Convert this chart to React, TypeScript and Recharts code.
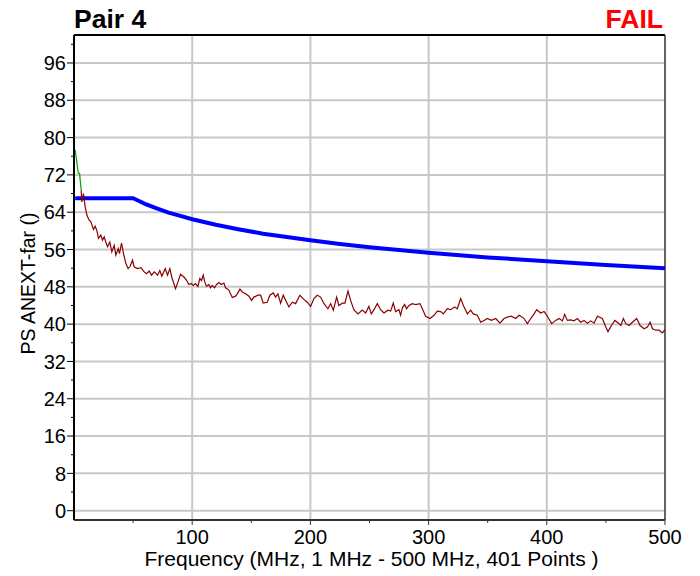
import { LineChart, Line, XAxis, YAxis, CartesianGrid, ReferenceLine } from 'recharts';

// limit line (blue)
const limitFreq = [1, 10, 20, 30, 40, 50, 55, 60, 70, 80, 90, 100, 120, 140, 160, 180, 200, 225, 250, 275, 300, 350, 400, 450, 500];
const limitVal = [67, 67, 67, 67, 67, 67, 66.4, 65.8, 64.8, 63.9, 63.2, 62.5, 61.3, 60.3, 59.4, 58.7, 58.0, 57.2, 56.5, 55.9, 55.3, 54.3, 53.5, 52.7, 52.0];

// first few points of the measurement (green)
const greenFreq = [1, 3.6, 4.7, 6.1];
const greenVal = [77.4, 72.4, 72.3, 68.7];

// measured PS ANEXT (dark red)
const measFreq = [
    6.1, 6.6, 8.0, 9.5, 10.9, 12.8, 14.2, 16.5, 17.9, 19.3, 20.7, 22.7, 24.1, 25.5, 26.9, 28.4, 30.3, 32.0, 34.0, 35.4,
    37.4, 38.5, 40.2, 41.9, 43.9, 45.8, 47.5, 49.5, 50.9, 53.7, 56.6, 59.4, 61.4, 63.6, 65.6, 67.9, 70.7, 72.6, 74.3, 77.2,
    79.1, 81.1, 82.8, 85.9, 87.9, 90.1, 93.0, 95.2, 97.2, 99.2, 100.9, 102.8, 104.8, 106.5, 107.9, 109.3, 110.7, 112.1, 114.1, 115.5,
    116.9, 118.9, 120.6, 122.6, 124.6, 126.8, 128.2, 131.0, 133.9, 136.7, 138.1, 140.4, 142.3, 145.2, 148.0, 150.2, 152.2, 155.6, 157.9, 160.1,
    163.5, 165.7, 168.6, 170.5, 172.5, 174.8, 177.0, 179.0, 181.8, 184.7, 187.5, 191.1, 194.5, 197.3, 200.2, 203.0, 205.8, 208.6, 211.5, 214.8,
    217.1, 219.4, 222.2, 224.1, 227.0, 229.2, 231.8, 234.0, 236.8, 240.2, 243.9, 246.7, 249.5, 251.5, 253.8, 256.6, 259.4, 262.2, 265.6, 267.9,
    270.1, 272.1, 274.9, 276.3, 277.8, 279.7, 281.4, 283.4, 286.2, 289.0, 292.7, 294.7, 297.5, 301.2, 304.6, 307.4, 310.2, 312.5, 315.8, 318.7,
    322.0, 324.3, 327.1, 329.9, 332.8, 335.6, 337.8, 341.2, 344.1, 346.9, 349.7, 353.1, 356.8, 360.4, 363.8, 366.6, 370.0, 373.7, 376.5, 379.3,
    380.7, 383.6, 386.4, 389.2, 391.5, 394.8, 397.7, 400.5, 404.1, 407.5, 410.4, 413.2, 415.1, 417.4, 420.2, 423.0, 425.9, 428.7, 431.5, 434.3,
    437.2, 440.0, 442.8, 447.0, 449.9, 451.8, 454.7, 457.5, 459.7, 462.6, 464.8, 466.8, 469.6, 472.4, 476.1, 478.9, 482.3, 485.1, 487.4, 489.4,
    492.2, 495.0, 497.8, 500.0,
];
const measVal = [
    68.7, 66.2, 68.0, 65.1, 63.4, 62.3, 62.0, 60.3, 61.0, 60.1, 58.4, 59.1, 58.0, 58.7, 57.6, 56.6, 57.6, 55.5, 56.9, 54.8,
    56.2, 55.1, 57.4, 55.1, 53.0, 51.9, 52.4, 53.7, 52.3, 51.9, 52.1, 51.2, 50.8, 51.4, 50.5, 51.2, 50.5, 51.5, 50.3, 51.9,
    50.5, 51.9, 50.0, 47.6, 49.0, 50.7, 50.1, 49.4, 48.5, 48.7, 48.3, 48.7, 48.1, 49.8, 49.3, 50.5, 49.0, 48.1, 48.5, 47.8,
    48.3, 47.8, 48.5, 48.9, 48.5, 48.8, 47.8, 47.3, 45.7, 46.0, 46.5, 47.5, 46.9, 46.5, 46.0, 45.1, 45.8, 46.2, 46.2, 44.5,
    44.7, 46.2, 46.7, 45.8, 46.5, 44.5, 46.2, 45.1, 43.7, 44.7, 44.4, 46.2, 45.3, 44.7, 43.8, 45.5, 46.2, 45.8, 44.4, 43.3,
    44.4, 43.0, 45.8, 44.0, 44.5, 44.5, 47.1, 45.1, 43.1, 42.2, 43.0, 42.4, 43.8, 42.2, 43.1, 44.4, 43.1, 42.4, 43.0, 42.8,
    44.5, 42.7, 43.1, 41.9, 43.5, 44.2, 43.3, 44.0, 44.4, 44.2, 44.4, 43.3, 41.7, 41.2, 41.9, 42.8, 42.7, 42.2, 43.3, 43.1,
    43.7, 43.3, 45.5, 43.7, 42.2, 43.0, 42.2, 41.9, 40.4, 40.8, 41.2, 40.8, 41.2, 40.2, 41.2, 41.5, 41.7, 41.2, 41.9, 41.5,
    41.2, 40.1, 41.2, 42.2, 43.1, 42.4, 42.7, 41.7, 40.1, 40.8, 41.2, 40.7, 42.1, 40.8, 40.9, 40.7, 41.2, 40.4, 40.8, 40.2,
    40.7, 40.2, 41.7, 41.2, 39.4, 38.4, 39.7, 40.8, 40.4, 39.7, 41.2, 40.1, 39.7, 40.4, 41.2, 39.7, 39.0, 39.4, 40.4, 39.0,
    38.7, 38.7, 38.1, 38.8,
];

const xTicks = [50, 100, 150, 200, 250, 300, 350, 400, 450, 500];
const xGrid = [100, 200, 300, 400, 500];
const yTicks = [0, 4, 8, 12, 16, 20, 24, 28, 32, 36, 40, 44, 48, 52, 56, 60, 64, 68, 72, 76, 80, 84, 88, 92, 96, 100];
const yGrid = [0, 8, 16, 24, 32, 40, 48, 56, 64, 72, 80, 88, 96];

const toPoints = (fs: number[], vs: number[]) => fs.map((f, i) => ({ f, v: vs[i] }));
const limitData = toPoints(limitFreq, limitVal);
const greenData = toPoints(greenFreq, greenVal);
const measData = toPoints(measFreq, measVal);

const FONT = '"Liberation Sans", Arial, sans-serif';

const XTick = ({ x, y, payload }: any) => {
    const major = payload.value % 100 === 0;
    return (
        <g>
            <line x1={x} x2={x} y1={y} y2={y + (major ? 5 : 3)} stroke="#333" strokeWidth={1} />
            {major && (
                <text x={x} y={y + 24} textAnchor="middle" fontSize={20} fontFamily={FONT} fill="#000">
                    {payload.value}
                </text>
            )}
        </g>
    );
};

const YTick = ({ x, y, payload }: any) => {
    const major = payload.value % 8 === 0;
    return (
        <g>
            <line x1={x - (major ? 7 : 3)} x2={x} y1={y} y2={y} stroke="#000" strokeWidth={1} />
            {major && (
                <text x={x - 8} y={y} dy="0.36em" textAnchor="end" fontSize={20} fontFamily={FONT} fill="#000">
                    {payload.value}
                </text>
            )}
        </g>
    );
};

export default function App() {
    return (
        <div style={{ position: 'absolute', left: 0, top: 0, width: 700, height: 576, background: '#fff' }}>
            <LineChart width={700} height={576} margin={{ top: 35, right: 35, bottom: 0, left: 0 }}>
                <CartesianGrid
                    stroke="#c8c8c8"
                    strokeWidth={2}
                    horizontalValues={yGrid}
                    verticalValues={xGrid}
                />
                <XAxis
                    dataKey="f"
                    type="number"
                    domain={[0, 500]}
                    ticks={xTicks}
                    interval={0}
                    allowDataOverflow
                    height={56}
                    tickLine={false}
                    tickSize={0}
                    tickMargin={0}
                    tick={<XTick />}
                    axisLine={{ stroke: '#333', strokeWidth: 2 }}
                    label={{
                        content: ({ viewBox }: any) => (
                            <text x={viewBox.x + viewBox.width / 2 + 2} y={566} textAnchor="middle" fontSize={21} fontFamily={FONT} fill="#000">
                                Frequency (MHz, 1 MHz - 500 MHz, 401 Points )
                            </text>
                        ),
                    }}
                />
                <YAxis
                    type="number"
                    domain={[-2, 102]}
                    ticks={yTicks}
                    interval={0}
                    allowDataOverflow
                    width={74}
                    tickLine={false}
                    tickSize={0}
                    tickMargin={0}
                    tick={<YTick />}
                    axisLine={{ stroke: '#000', strokeWidth: 2 }}
                    label={{
                        content: ({ viewBox }: any) => {
                            const cx = 28;
                            const cy = viewBox.y + viewBox.height / 2 + 6;
                            return (
                                <text x={cx} y={cy} dy="0.36em" textAnchor="middle" transform={`rotate(-90 ${cx} ${cy})`} fontSize={19.5} fontFamily={FONT} fill="#000">
                                    PS ANEXT-far ()
                                </text>
                            );
                        },
                    }}
                />
                <ReferenceLine y={102} stroke="#000" strokeWidth={2} />
                <ReferenceLine x={500} stroke="#444" strokeWidth={1.5} />
                <Line data={limitData} dataKey="v" type="linear" stroke="#0000ff" strokeWidth={4} dot={false} isAnimationActive={false} />
                <Line data={measData} dataKey="v" type="linear" stroke="#8b0000" strokeWidth={1.2} dot={false} isAnimationActive={false} />
                <Line data={greenData} dataKey="v" type="linear" stroke="#00a000" strokeWidth={1.2} dot={false} isAnimationActive={false} />
            </LineChart>
            <svg width={700} height={576} style={{ position: 'absolute', left: 0, top: 0, pointerEvents: 'none' }}>
                <text x={74} y={28} fontSize={26.5} fontWeight="bold" fontFamily={FONT} fill="#000">Pair 4</text>
                <text x={663} y={28} textAnchor="end" fontSize={26.5} fontWeight="bold" fontFamily={FONT} fill="#ff0000">FAIL</text>
            </svg>
        </div>
    );
}
